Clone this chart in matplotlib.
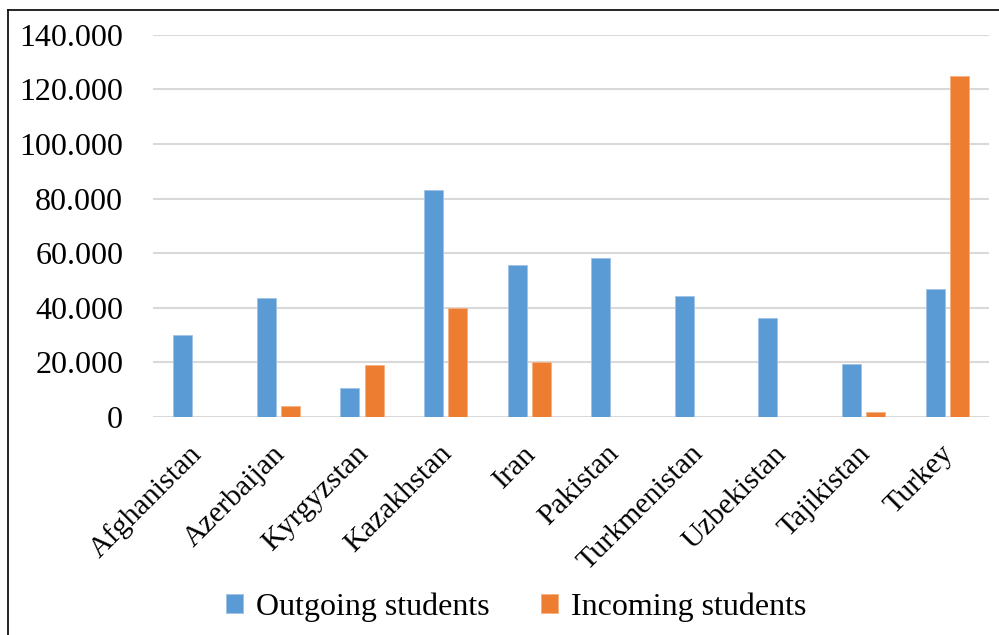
import matplotlib
matplotlib.use("Agg")
import matplotlib.pyplot as plt
import numpy as np
from matplotlib.lines import Line2D

countries = ["Afghanistan", "Azerbaijan", "Kyrgyzstan", "Kazakhstan", "Iran",
             "Pakistan", "Turkmenistan", "Uzbekistan", "Tajikistan", "Turkey"]
outgoing = [30200, 43400, 10700, 83200, 55800, 58300, 44400, 36200, 19300, 46800]
incoming = [0, 4200, 19100, 40000, 20000, 0, 0, 0, 1700, 124900]
yticks = [0, 20000, 40000, 60000, 80000, 100000, 120000, 140000]
ytick_labels = ["0", "20.000", "40.000", "60.000", "80.000", "100.000", "120.000", "140.000"]

plt.rcParams['font.family'] = ['Liberation Serif', 'DejaVu Serif']

W, H = 999, 635
fig = plt.figure(figsize=(W / 100, H / 100), dpi=100)
ax = fig.add_axes([153 / W, (H - 417) / H, (989 - 153) / W, (417 - 34.7) / H])

x = np.arange(len(countries))
bw = 0.227
off = 0.145
ax.bar(x - off, outgoing, bw, color="#5B9BD5", edgecolor="#9DC3E6", linewidth=0.6,
       label="Outgoing students", zorder=3)
ax.bar(x + off, incoming, bw, color="#ED7D31", edgecolor="#F4B183", linewidth=0.6,
       label="Incoming students", zorder=3)

ax.set_xlim(-0.5, len(countries) - 0.5)
ax.set_ylim(0, 140000)
ax.set_yticks(yticks)
ax.set_yticklabels(ytick_labels, fontsize=23)
ax.yaxis.grid(True, color="#D9D9D9", linewidth=1.5, zorder=0)
ax.tick_params(axis="y", length=0, pad=21.5)
ax.tick_params(axis="x", length=0, pad=17)
for s in ax.spines.values():
    s.set_visible(False)
ax.set_xticks(x - 0.08)
ax.set_xticklabels(countries, rotation=45, ha="right", rotation_mode="anchor", fontsize=21.5)

fig.legend(loc="center", bbox_to_anchor=(516 / W, 1 - 607 / H), ncol=2, frameon=False,
           fontsize=23, handlelength=0.55, handleheight=0.55, handletextpad=0.4,
           columnspacing=1.6)

fig.add_artist(Line2D([8 / W, 8 / W], [0, 1 - 10 / H], color="black", linewidth=1.2,
                      transform=fig.transFigure))
fig.add_artist(Line2D([8 / W, 1], [1 - 10 / H, 1 - 10 / H], color="black", linewidth=1.2,
                      transform=fig.transFigure))

fig.savefig("out.png", dpi=100)
